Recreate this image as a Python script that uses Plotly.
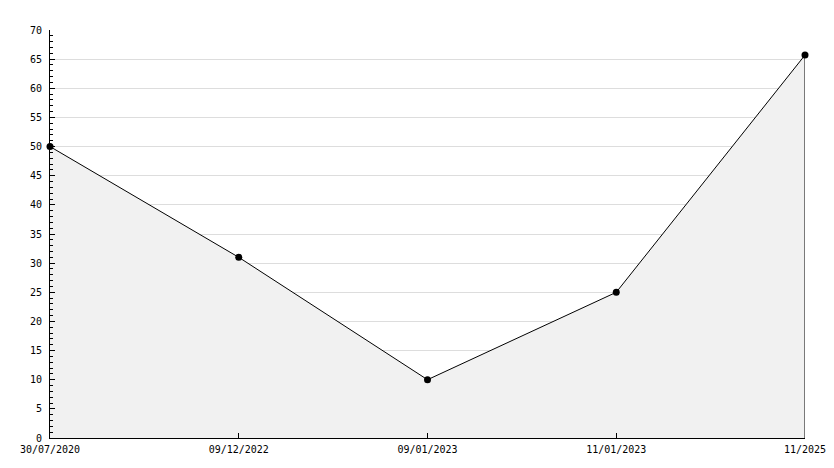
import plotly.graph_objects as go

dates = ["30/07/2020", "09/12/2022", "09/01/2023", "11/01/2023", "11/2025"]
values = [50, 31, 10, 25, 65.7]
y_ticks = list(range(0, 71, 5))

font = dict(family="DejaVu Sans Mono", size=10, color="black")

fig = go.Figure()
fig.add_trace(go.Scatter(
    x=dates, y=values, mode="lines+markers", fill="tozeroy",
    fillcolor="#f1f1f1", line=dict(color="black", width=1),
    marker=dict(color="black", size=7, symbol="circle"),
    showlegend=False, hoverinfo="skip", cliponaxis=False))
# right edge of the filled area
fig.add_trace(go.Scatter(
    x=[dates[-1], dates[-1]], y=[0, values[-1]], mode="lines",
    line=dict(color="black", width=1), showlegend=False, hoverinfo="skip",
    cliponaxis=False))

# page body has an 8px default margin, so the figure is offset by 8px
fig.update_layout(
    width=826, height=460,
    margin=dict(l=42, r=29, t=22, b=30, autoexpand=False),
    paper_bgcolor="white", plot_bgcolor="white",
    font=font,
)
fig.update_xaxes(
    type="category", range=[0, len(dates) - 1], automargin=False,
    showline=True, linecolor="black", linewidth=1,
    ticks="inside", ticklen=5, tickcolor="black", ticklabelstandoff=2,
    showgrid=False, zeroline=False, tickfont=font,
)
fig.update_yaxes(
    range=[0, 70], tickvals=y_ticks, ticktext=[str(v) for v in y_ticks],
    automargin=False,
    showline=True, linecolor="black", linewidth=1,
    ticks="inside", ticklen=5, tickcolor="black", ticklabelstandoff=5,
    showgrid=True, gridcolor="#dddddd", gridwidth=1, zeroline=False,
    minor=dict(dtick=1, ticks="inside", ticklen=3, tickcolor="black", showgrid=False),
    tickfont=font,
)
fig.write_html("out.html")
